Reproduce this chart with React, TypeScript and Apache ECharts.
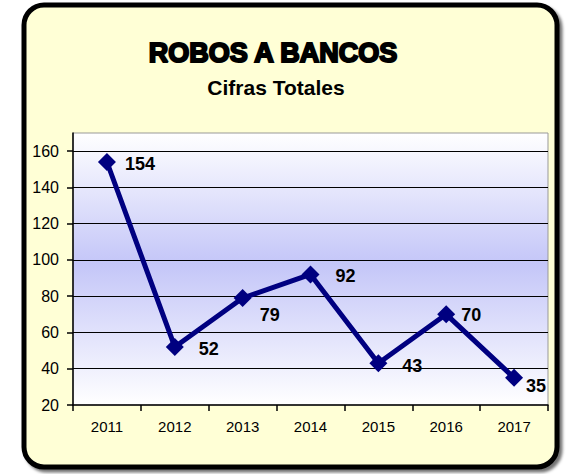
import React, { useEffect, useRef } from "react";
import * as echarts from "echarts";

const years = ["2011", "2012", "2013", "2014", "2015", "2016", "2017"];
const robos = [154, 52, 79, 92, 43, 70, 35];
const labelNudges = [
  [9, 2],
  [15, 2],
  [8, 17],
  [16, 2],
  [15, 3],
  [6, 1],
  [3, 8],
];

const FONT = "'Liberation Sans', Arial, sans-serif";

export default function App() {
  const ref = useRef<HTMLDivElement>(null);
  useEffect(() => {
    document.body.style.margin = "0";
    const chart = echarts.init(ref.current!, null, { renderer: "svg" });
    chart.setOption({
      animation: false,
      backgroundColor: "#ffffff",
      graphic: [
        {
          type: "rect",
          z: -10,
          shape: { x: 24, y: 5, width: 533, height: 462, r: 20 },
          style: {
            fill: "#FFFFD6",
            stroke: "#000000",
            lineWidth: 5,
            shadowBlur: 3,
            shadowColor: "rgba(0,0,0,0.55)",
            shadowOffsetX: 3,
            shadowOffsetY: 3,
          },
        },
        {
          type: "text",
          x: 273,
          y: 53,
          style: {
            text: "ROBOS A BANCOS",
            fontFamily: FONT,
            fontWeight: "bold",
            fontSize: 27,
            fill: "#000",
            stroke: "#000",
            lineWidth: 2,
            align: "center",
            verticalAlign: "middle",
          },
        },
        {
          type: "text",
          x: 276,
          y: 87,
          style: {
            text: "Cifras Totales",
            fontFamily: FONT,
            fontWeight: "bold",
            fontSize: 21,
            fill: "#000",
            align: "center",
            verticalAlign: "middle",
          },
        },
      ],
      grid: {
        left: 73,
        right: 19,
        top: 133,
        bottom: 69,
        show: true,
        borderColor: "#999999",
        borderWidth: 1,
        backgroundColor: new echarts.graphic.LinearGradient(0, 0, 0, 1, [
          { offset: 0, color: "#FFFFFF" },
          { offset: 0.48, color: "#C4C6F8" },
          { offset: 1, color: "#FFFFFF" },
        ]),
      },
      xAxis: {
        type: "category",
        data: years,
        boundaryGap: true,
        axisLine: { lineStyle: { color: "#000", width: 1.5 } },
        axisTick: { show: true, length: 6, lineStyle: { color: "#000", width: 1.5 } },
        axisLabel: { color: "#000", fontSize: 15, fontFamily: FONT, margin: 14 },
        splitLine: { show: false },
      },
      yAxis: {
        type: "value",
        min: 20,
        max: 170,
        interval: 20,
        axisLine: { show: true, lineStyle: { color: "#000", width: 1.5 } },
        axisTick: { show: true, length: 6, lineStyle: { color: "#000", width: 1.5 } },
        axisLabel: {
          color: "#000",
          fontSize: 16,
          fontFamily: FONT,
          margin: 14,
          showMaxLabel: false,
        },
        splitLine: {
          show: true,
          showMinLine: false,
          showMaxLine: false,
          lineStyle: { color: "#000", width: 1.2 },
        },
      },
      series: [
        {
          type: "line",
          data: robos.map((v, i) => ({
            value: v,
            label: { offset: labelNudges[i] },
          })),
          symbol: "diamond",
          symbolSize: 18,
          lineStyle: { color: "#000080", width: 5 },
          itemStyle: { color: "#000080" },
          label: {
            show: true,
            position: "right",
            distance: 0,
            color: "#000",
            fontWeight: "bold",
            fontSize: 18,
            fontFamily: FONT,
          },
        },
      ],
    });
    return () => chart.dispose();
  }, []);
  return <div ref={ref} style={{ width: 567, height: 474 }} />;
}
